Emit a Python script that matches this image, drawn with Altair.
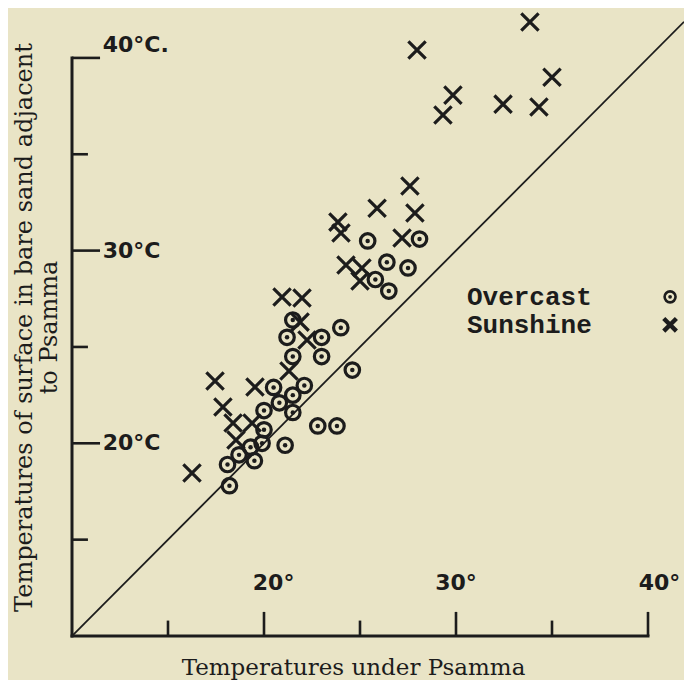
import altair as alt
import pandas as pd

# ---- data ----
overcast_x = [18.2, 18.1, 18.7, 19.5, 19.9, 21.1, 20.0, 19.3, 20.0, 20.5, 21.5, 20.8, 21.5, 22.1,
              21.5, 23.0, 21.5, 21.2, 23.0, 24.0, 24.6, 22.8, 23.8, 25.4, 28.1, 26.4, 27.5, 25.8, 26.5]
overcast_y = [17.8, 18.9, 19.4, 19.1, 20.0, 19.9, 20.7, 19.8, 21.7, 22.9, 21.6, 22.1, 22.5, 23.0,
              24.5, 24.5, 26.4, 25.5, 25.5, 26.0, 23.8, 20.9, 20.9, 30.5, 30.6, 29.4, 29.1, 28.5, 27.9]

sunshine_x = [33.85, 27.97, 35.0, 29.84, 29.32, 32.45, 34.32, 27.6, 25.89, 27.86, 27.19, 23.85, 24.01,
              24.27, 25.1, 25.0, 20.94, 21.98, 21.88, 22.24, 21.3, 17.45, 19.53, 17.86, 18.39, 19.38,
              18.54, 16.25]
sunshine_y = [41.86, 40.41, 39.0, 38.07, 37.04, 37.6, 37.45, 33.35, 32.2, 31.95, 30.65, 31.48, 30.91,
              29.25, 29.1, 28.42, 27.59, 27.54, 26.29, 25.36, 23.75, 23.23, 22.92, 21.88, 21.05, 21.05,
              20.17, 18.46]

tick_values = [15, 20, 25, 30, 35, 40]
major_values = [20, 30, 40]
x_tick_labels = ["20°", "30°", "40°"]
x_label_pos = [20.5, 30.0, 40.6]
y_tick_labels = ["20°C", "30°C", "40°C."]
y_label_pos = [20.0, 30.0, 40.65]
legend_labels = ["Overcast", "Sunshine"]
legend_pos = [27.6, 26.15]
legend_kind = ["Overcast", "Sunshine"]

# ---- layout constants ----
X_MIN, X_MAX = 10, 41.875
Y_MIN, Y_MAX = 10, 42.59
AX_END = 40
INK = "#1c1c1c"
BG = "#e9e4c6"
Y_LABEL_X = 11.6
X_LABEL_Y = 12.75
LEG_TEXT_X = 30.57
LEG_SYM_X = 41.15

xs = alt.Scale(domain=[X_MIN, X_MAX], nice=False, zero=False)
ys = alt.Scale(domain=[Y_MIN, Y_MAX], nice=False, zero=False)

xaxis = alt.Axis(title="Temperatures under Psamma", labels=False, ticks=False, domain=False,
                 grid=False, titleFont="DejaVu Serif", titleFontSize=23, titleFontWeight="normal",
                 titleColor=INK, titleX=281, titleY=38, titleBaseline="alphabetic", titleAlign="center")
yaxis = alt.Axis(title=["Temperatures of surface in bare sand adjacent", "to Psamma"], labels=False,
                 ticks=False, domain=False, grid=False, titleFont="DejaVu Serif", titleFontSize=24,
                 titleFontWeight="normal", titleColor=INK, titleX=-48, titleY=319, titleAngle=270,
                 titleBaseline="middle", titleAlign="center", titleLineHeight=25)


def X(f):
    return alt.X(f, type="quantitative", scale=xs, axis=xaxis)


def Y(f):
    return alt.Y(f, type="quantitative", scale=ys, axis=yaxis)


over_df = pd.DataFrame({"x": overcast_x, "y": overcast_y})
sun_df = pd.DataFrame({"x": sunshine_x, "y": sunshine_y})

diag_df = pd.DataFrame({"x": [X_MIN, X_MAX], "y": [X_MIN, X_MAX]})
diag = alt.Chart(diag_df).mark_line(color=INK, strokeWidth=1.8, clip=True).encode(x=X("x"), y=Y("y"))

axes_df = pd.DataFrame({"x": [X_MIN, X_MIN], "x2": [X_MIN, AX_END],
                        "y": [Y_MIN, Y_MIN], "y2": [AX_END, Y_MIN]})
axes = alt.Chart(axes_df).mark_rule(color=INK, strokeWidth=3, strokeCap="square").encode(
    x=X("x"), x2="x2", y=Y("y"), y2="y2")

ylen = [1.46 if v in major_values else 0.83 for v in tick_values]
xlen = [1.25 if v in major_values else 0.8 for v in tick_values]
ytick_df = pd.DataFrame({"y": tick_values, "x": [X_MIN] * len(tick_values),
                         "x2": [X_MIN + l for l in ylen]})
xtick_df = pd.DataFrame({"x": tick_values, "y": [Y_MIN] * len(tick_values),
                         "y2": [Y_MIN + l for l in xlen]})
yticks = alt.Chart(ytick_df).mark_rule(color=INK, strokeWidth=2.6).encode(
    x=X("x"), x2="x2", y=Y("y"))
xticks = alt.Chart(xtick_df).mark_rule(color=INK, strokeWidth=2.6).encode(
    x=X("x"), y=Y("y"), y2="y2")

ylab_df = pd.DataFrame({"label": y_tick_labels, "y": y_label_pos,
                        "x": [Y_LABEL_X] * len(y_tick_labels)})
ylabels = alt.Chart(ylab_df).mark_text(align="left", baseline="middle", font="DejaVu Sans",
                                       fontWeight="bold", fontSize=22, color=INK).encode(
    x=X("x"), y=Y("y"), text="label:N")

xlab_df = pd.DataFrame({"label": x_tick_labels, "x": x_label_pos,
                        "y": [X_LABEL_Y] * len(x_tick_labels)})
xlabels = alt.Chart(xlab_df).mark_text(align="center", baseline="middle", font="DejaVu Sans",
                                       fontWeight="bold", fontSize=22, color=INK).encode(
    x=X("x"), y=Y("y"), text="label:N")

ring = alt.Chart(over_df).mark_point(shape="circle", filled=False, color=INK, strokeWidth=3.2,
                                     size=210, opacity=1).encode(x=X("x"), y=Y("y"))
dot = alt.Chart(over_df).mark_point(shape="circle", filled=True, color=INK, size=20,
                                    opacity=1).encode(x=X("x"), y=Y("y"))
XPATH = "M-1,-1L1,1M-1,1L1,-1"
cross = alt.Chart(sun_df).mark_point(shape=XPATH, filled=False, color=INK, strokeWidth=3.2,
                                     size=300, opacity=1).encode(x=X("x"), y=Y("y"))

leg_df = pd.DataFrame({"label": legend_labels, "y": legend_pos, "kind": legend_kind,
                       "x": [LEG_TEXT_X] * 2, "sx": [LEG_SYM_X] * 2})
leg_text = alt.Chart(leg_df).mark_text(align="left", baseline="middle", font="Liberation Mono",
                                       fontWeight="bold", fontSize=26, color=INK).encode(
    x=X("x"), y=Y("y"), text="label:N")
leg_ring = alt.Chart(leg_df).transform_filter(alt.datum.kind == "Overcast").mark_point(
    shape="circle", filled=False, color=INK, strokeWidth=2.6, size=120, opacity=1).encode(
    x=X("sx"), y=Y("y"))
leg_dot = alt.Chart(leg_df).transform_filter(alt.datum.kind == "Overcast").mark_point(
    shape="circle", filled=True, color=INK, size=14, opacity=1).encode(x=X("sx"), y=Y("y"))
leg_cross = alt.Chart(leg_df).transform_filter(alt.datum.kind == "Sunshine").mark_point(
    shape=XPATH, filled=False, color=INK, strokeWidth=4.4, size=160, opacity=1).encode(
    x=X("sx"), y=Y("y"))

chart = alt.layer(
    diag, axes, yticks, xticks, ylabels, xlabels, ring, dot, cross,
    leg_text, leg_ring, leg_dot, leg_cross
).properties(
    width=612, height=628,
    autosize=alt.AutoSizeParams(type="none"),
    padding={"left": 64, "top": 0, "right": 0, "bottom": 44},
    background=BG,
).configure_view(stroke=None)

chart.save("out.html", embed_options={"renderer": "svg", "actions": False})
